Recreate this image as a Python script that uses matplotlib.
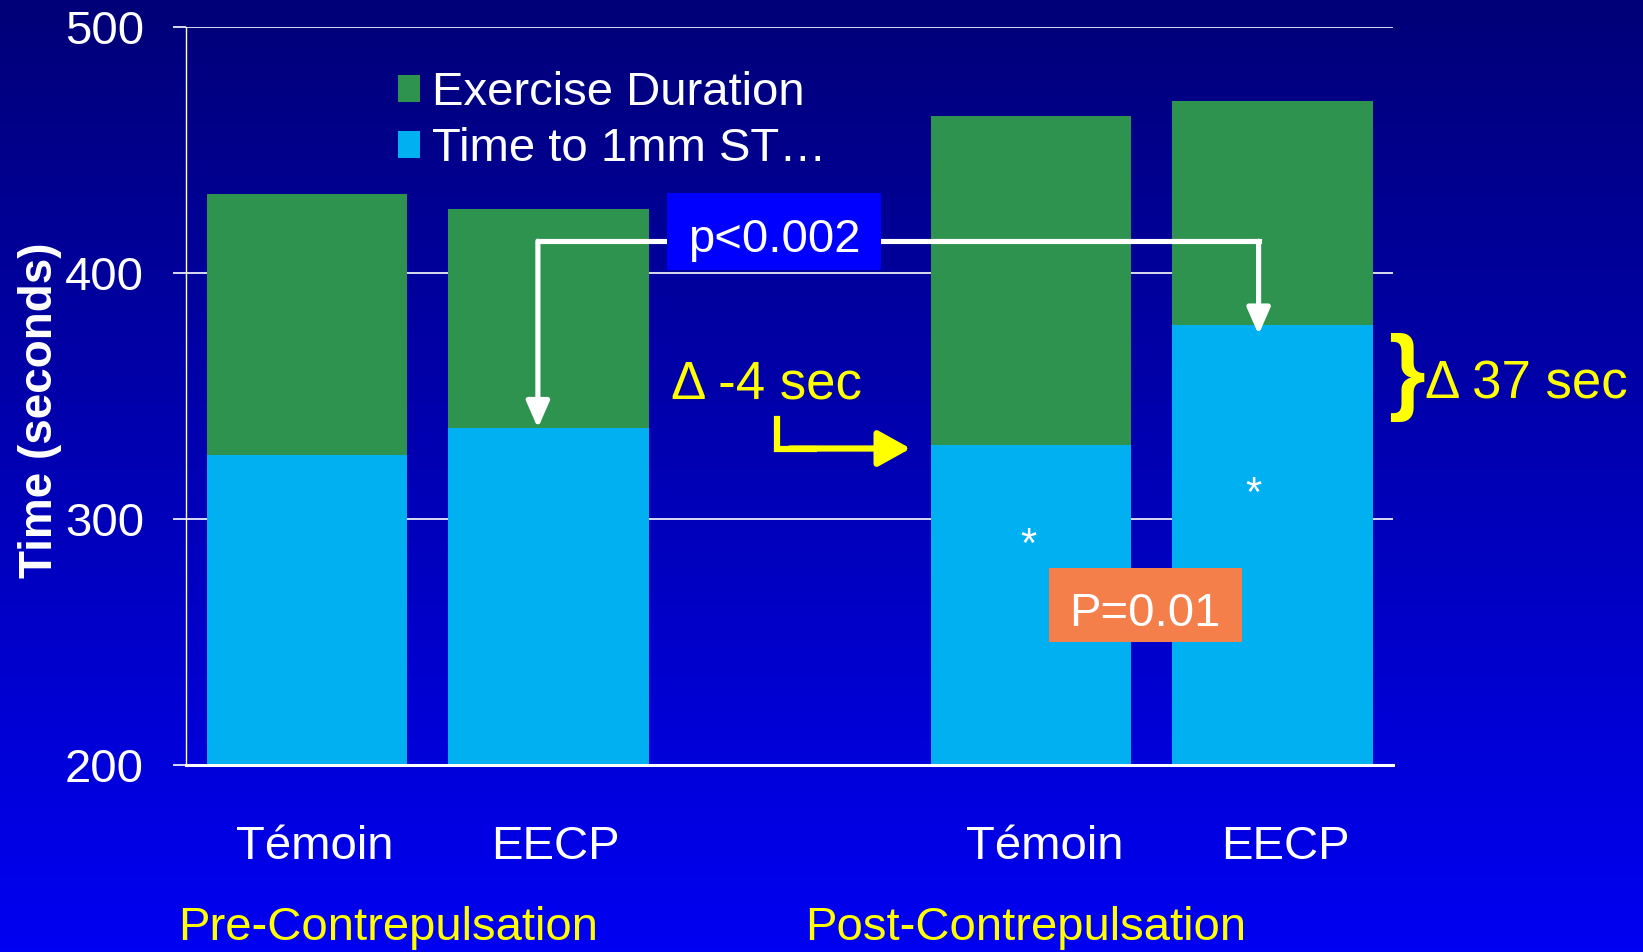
import numpy as np
import matplotlib.pyplot as plt
from matplotlib.patches import Rectangle

plt.rcParams['font.family'] = ['Liberation Sans', 'DejaVu Sans']

# donnees
groups = ['Pre-Contrepulsation', 'Post-Contrepulsation']
categories = ['Témoin', 'EECP', 'Témoin', 'EECP']
exercise_duration = [432, 426, 464, 470]
time_to_st = [326, 337, 330, 379]
series_names = ['Exercise Duration', 'Time to 1mm ST\u2026']
yticks = [200, 300, 400, 500]

green = '#2E934E'
cyan = '#00B0F0'
yellow = '#FFFF00'
fs = 34

# positions: deux barres par groupe, une case vide entre les groupes
x = [g * 3 + i for g in range(len(groups)) for i in range(2)]

fig = plt.figure(figsize=(16.43, 9.52), dpi=100)

# fond degrade bleu
bg = fig.add_axes([0, 0, 1, 1], zorder=0)
t = np.linspace(0, 1, 256)[:, None]
top = np.array([0.0, 0.0, 0.47])
bottom = np.array([0.0, 0.0, 0.95])
grad = (top + (bottom - top) * t[:, :, None]) * np.ones((1, 2, 1))
bg.imshow(grad, aspect='auto', extent=[0, 1, 0, 1])
bg.axis('off')

ax = fig.add_axes([0.1135, 0.1964, 0.7345, 0.775], zorder=1)
ax.set_facecolor('none')

ax.bar(x, exercise_duration, width=0.83, color=green, zorder=2, label=series_names[0])
ax.bar(x, time_to_st, width=0.83, color=cyan, zorder=3, label=series_names[1])

ax.set_xlim(-0.5, 4.5)
ax.set_ylim(200, 500)
ax.set_yticks(yticks)
ax.set_yticklabels([str(v) for v in yticks], fontsize=fs, color='white')
ax.tick_params(axis='y', direction='out', length=9.5, width=1.2, color='white', pad=21)
ax.set_xticks([])
for v in yticks[1:]:
    ax.axhline(v, color='white', lw=1.2, zorder=1)
for s in ['top', 'right']:
    ax.spines[s].set_visible(False)
ax.spines['left'].set_color('white')
ax.spines['left'].set_linewidth(1.0)
ax.spines['bottom'].set_color('white')
ax.spines['bottom'].set_linewidth(2.2)
ax.spines['bottom'].set_zorder(4)

fig.text(0.0243, 0.5693, 'Time (seconds)', rotation=90, ha='center', va='center',
         fontsize=33, fontweight='bold', color='white')

# etiquettes des barres
for i, (xi, lab) in enumerate(zip(x, categories)):
    dx = 0.03 if i < 2 else 0.055
    ax.text(xi + dx, -0.1274, lab, transform=ax.get_xaxis_transform(),
            ha='center', va='baseline', fontsize=fs, color='white')
fig.text(0.236, 0.0126, groups[0], ha='center', va='baseline', fontsize=fs, color=yellow)
fig.text(0.624, 0.0126, groups[1], ha='center', va='baseline', fontsize=fs, color=yellow)

leg = ax.legend(loc='upper left', bbox_to_anchor=(0.2422, 0.925), bbox_transform=fig.transFigure,
                frameon=False, fontsize=fs, labelcolor='white', handlelength=0.47,
                handleheight=0.5, handletextpad=0.25, labelspacing=0.25,
                borderpad=0, borderaxespad=0)

# liaison p<0.002
y_link = 413
xl, xr = 0.956, 3.942
ax.plot([xl, xr], [y_link, y_link], color='white', lw=3.7, zorder=5, solid_capstyle='projecting')
for xa, yt in [(xl, time_to_st[1]), (xr, time_to_st[3] - 4)]:
    ax.annotate('', xy=(xa, yt), xytext=(xa, y_link),
                arrowprops=dict(arrowstyle='-|>,head_length=0.8,head_width=0.35',
                                color='white', lw=3.7, shrinkA=0, shrinkB=0,
                                mutation_scale=20), zorder=5)
ax.add_patch(Rectangle((1.49, 401.2), 0.888, 31.3, facecolor='#0000FF',
                       edgecolor='none', zorder=6))
ax.text(1.934, 408.7, 'p<0.002', ha='center', va='baseline', fontsize=fs,
        color='white', zorder=7)

# delta -4 sec
ax.text(1.509, 349.2, '\u0394 -4 sec', ha='left', va='baseline', fontsize=38, color=yellow, zorder=6)
ax.plot([1.948, 1.948, 2.1], [340.7, 328.7, 328.7], color=yellow, lw=4.5, zorder=6,
        solid_joinstyle='miter')
ax.annotate('', xy=(2.5, 328.7), xytext=(2.0, 328.7),
            arrowprops=dict(arrowstyle='-|>,head_length=0.9,head_width=0.5',
                            color=yellow, lw=4.5, shrinkA=0, shrinkB=0,
                            mutation_scale=22), zorder=6)

# delta 37 sec
ax.text(4.554, 357.7, '}', ha='center', va='center', fontsize=68, fontweight='bold',
        color=yellow, clip_on=False, zorder=6)
ax.text(4.63, 349.2, '\u0394 37 sec', ha='left', va='baseline', fontsize=38,
        color=yellow, clip_on=False, zorder=6)

# asterisques
ax.text(2.99, 284.6, '*', ha='center', va='baseline', fontsize=30, color='white', zorder=6)
ax.text(3.92, 305.3, '*', ha='center', va='baseline', fontsize=30, color='white', zorder=6)

# P=0.01
ax.add_patch(Rectangle((3.074, 250.0), 0.801, 30.1, facecolor='#F47F4A',
                       edgecolor='none', zorder=6))
ax.text(3.47, 256.7, 'P=0.01', ha='center', va='baseline', fontsize=fs,
        color='white', zorder=7)

fig.savefig('out.png', dpi=100)
